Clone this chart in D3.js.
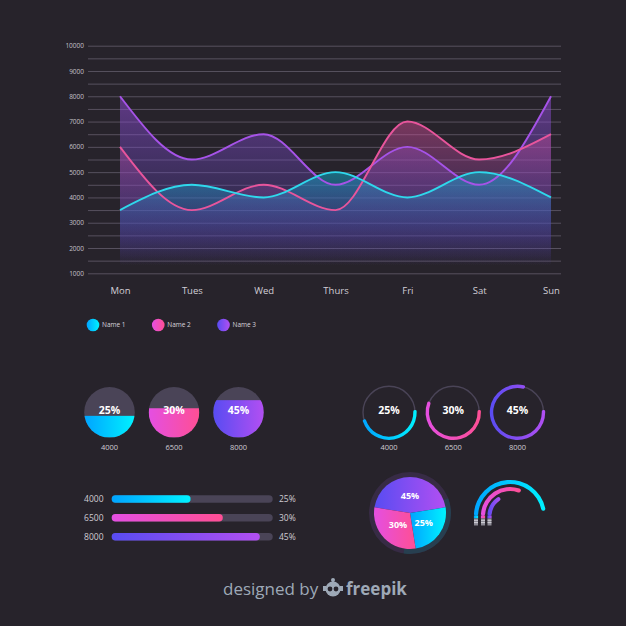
<!DOCTYPE html>
<html>
<head>
<meta charset="utf-8">
<script src="https://cdn.jsdelivr.net/npm/d3@7"></script>
<style>
  html, body { margin: 0; padding: 0; background: #27232b; }
  svg { display: block; font-family: 'Open Sans', sans-serif; }
</style>
</head>
<body>
<svg id="chart"></svg>
<script>
// values
const days = ['Mon', 'Tues', 'Wed', 'Thurs', 'Fri', 'Sat', 'Sun'];
const name1 = [3500, 4500, 4000, 5000, 4000, 5000, 4000];
const name2 = [6000, 3500, 4500, 3500, 7000, 5500, 6500];
const name3 = [8000, 5500, 6500, 4500, 6000, 4500, 8000];
const seriesNames = ['Name 1', 'Name 2', 'Name 3'];
const yTicks = [1000, 2000, 3000, 4000, 5000, 6000, 7000, 8000, 9000, 10000];
const gridValues = [1000, 1500, 2000, 2500, 3000, 3500, 4000, 4500, 5000, 5500,
  6000, 6500, 7000, 7500, 8000, 8500, 9000, 9500, 10000];

const shareLabels = ['25%', '30%', '45%'];
const totals = ['4000', '6500', '8000'];
const fillLevels = [0.43, 0.58, 0.74];   // filled circles
const ringLevels = [0.47, 0.58, 0.81];   // ring progress
const barLevels = [0.49, 0.69, 0.92];    // horizontal bars
const pieShares = [25, 30, 45];
const gaugeLevels = [0.95, 0.63, 0.34];  // outer cyan, pink, inner purple

let width = 626;
let height = 626;

let svg = d3.select('#chart').attr('width', width).attr('height', height);
svg.append('rect').attr('width', width).attr('height', height).attr('fill', '#27232b');

let defs = svg.append('defs');

// colour sets per series: cyan, pink, purple
let lineColors = ['#2fd8ec', '#e8559c', '#a653e8'];
// area gradients: [top colour, top opacity, bottom colour, bottom opacity]
let areaStops = [
  ['#0fa8c4', 0.55, '#4a44b0', 0.0],
  ['#e0509a', 0.45, '#7a46c0', 0.0],
  ['#9a4fe0', 0.5, '#5a48c0', 0.0]
];
let gradStops = [
  ['#00a4ff', '#00f2ff'],
  ['#e44fe2', '#ff4f94'],
  ['#584cf2', '#b24ff2']
];

gradStops.forEach((s, i) => {
  let g = defs.append('linearGradient').attr('id', 'grad' + i)
    .attr('x1', 0).attr('x2', 1).attr('y1', 0).attr('y2', 0);
  g.append('stop').attr('offset', '0%').attr('stop-color', s[0]);
  g.append('stop').attr('offset', '100%').attr('stop-color', s[1]);
});

areaStops.forEach((s, i) => {
  let g = defs.append('linearGradient').attr('id', 'area' + i)
    .attr('x1', 0).attr('x2', 0).attr('y1', 0).attr('y2', 1);
  g.append('stop').attr('offset', '0%').attr('stop-color', s[0]).attr('stop-opacity', s[1]);
  g.append('stop').attr('offset', '70%').attr('stop-color', s[2]).attr('stop-opacity', s[1] * 0.45);
  g.append('stop').attr('offset', '100%').attr('stop-color', s[2]).attr('stop-opacity', s[3]);
});

// ---------- line / area chart ----------
let xScale = d3.scalePoint().domain(days).range([120, 551]);
let yScale = d3.scaleLinear().domain([1000, 10000]).range([273.3, 45.7]);

let gridAxis = d3.axisLeft(yScale).tickValues(gridValues).tickSize(-(561 - 88)).tickFormat('');
let grid = svg.append('g').attr('transform', 'translate(88,0)').call(gridAxis);
grid.select('.domain').remove();
grid.selectAll('line').attr('stroke', '#57515f').attr('stroke-width', 1);

let yAxis = d3.axisLeft(yScale).tickValues(yTicks).tickSize(0).tickPadding(4).tickFormat(d3.format('d'));
let yg = svg.append('g').attr('transform', 'translate(88,0)').call(yAxis);
yg.select('.domain').remove();
yg.selectAll('text').attr('fill', '#c4c0c9').style('font-size', '6.5px').style('font-family', 'Open Sans');

let xAxis = d3.axisBottom(xScale).tickSize(0).tickPadding(0);
let xg = svg.append('g').attr('transform', 'translate(0,287)').call(xAxis);
xg.select('.domain').remove();
xg.selectAll('text').attr('fill', '#d2ced6').style('font-size', '9.5px').style('font-family', 'Open Sans');

let series = [name3, name2, name1];
let seriesIdx = [2, 1, 0];

let area = d3.area()
  .x((d, i) => xScale(days[i]))
  .y0(yScale(1300))
  .y1((d) => yScale(d))
  .curve(d3.curveMonotoneX);

let line = d3.line()
  .x((d, i) => xScale(days[i]))
  .y((d) => yScale(d))
  .curve(d3.curveMonotoneX);

svg.selectAll('path.area')
  .data(series)
  .enter()
  .append('path')
  .attr('class', 'area')
  .attr('d', area)
  .attr('fill', (d, i) => `url(#area${seriesIdx[i]})`);

svg.selectAll('path.line')
  .data(series)
  .enter()
  .append('path')
  .attr('class', 'line')
  .attr('d', line)
  .attr('fill', 'none')
  .attr('stroke', (d, i) => lineColors[seriesIdx[i]])
  .attr('stroke-width', 1.9);

// legend
let legendX = d3.scalePoint().domain(seriesNames).range([93, 223.5]);
let legend = svg.selectAll('g.legend')
  .data(seriesNames)
  .enter()
  .append('g')
  .attr('class', 'legend')
  .attr('transform', (d) => `translate(${legendX(d)},325)`);
legend.append('circle').attr('r', 6.3).attr('fill', (d, i) => `url(#grad${i})`);
legend.append('text')
  .attr('x', 9).attr('dy', '0.35em')
  .attr('fill', '#d8d4dc').style('font-size', '6.5px')
  .text((d) => d);

// ---------- filled circles ----------
let circleX = d3.scalePoint().domain([0, 1, 2]).range([109.5, 238.5]);
let cy = 412.3;
let cr = 25.3;
let levelY = d3.scaleLinear().domain([0, 1]).range([cy + cr, cy - cr]);

[0, 1, 2].forEach((i) => {
  let g = svg.append('g').attr('transform', `translate(${circleX(i)},0)`);
  defs.append('clipPath').attr('id', 'clip' + i)
    .append('circle').attr('cx', 0).attr('cy', cy).attr('r', cr);
  g.append('circle').attr('cy', cy).attr('r', cr).attr('fill', '#4a4457');
  g.append('rect')
    .attr('clip-path', `url(#clip${i})`)
    .attr('x', -cr).attr('width', cr * 2)
    .attr('y', levelY(fillLevels[i]))
    .attr('height', levelY(0) - levelY(fillLevels[i]))
    .attr('fill', `url(#grad${i})`);
  g.append('text').attr('y', cy - 2).attr('dy', '0.35em').attr('text-anchor', 'middle')
    .attr('fill', '#fff').style('font-size', '10.5px').style('font-weight', 700)
    .text(shareLabels[i]);
  g.append('text').attr('y', 447.5).attr('dy', '0.35em').attr('text-anchor', 'middle')
    .attr('fill', '#cfcbd3').style('font-size', '7.5px')
    .text(totals[i]);
});

// ---------- ring circles ----------
let ringX = d3.scalePoint().domain([0, 1, 2]).range([389, 517.5]);
let ringStart = 85 * Math.PI / 180;
let ringArc = d3.arc().innerRadius(24.3).outerRadius(27.7).cornerRadius(1.5);

[0, 1, 2].forEach((i) => {
  let g = svg.append('g').attr('transform', `translate(${ringX(i)},${cy})`);
  g.append('circle').attr('r', 26).attr('fill', 'none')
    .attr('stroke', '#4a4457').attr('stroke-width', 1.4);
  g.append('path')
    .attr('d', ringArc({ startAngle: ringStart, endAngle: ringStart + ringLevels[i] * 2 * Math.PI }))
    .attr('fill', `url(#grad${i})`);
  g.append('text').attr('y', -2).attr('dy', '0.35em').attr('text-anchor', 'middle')
    .attr('fill', '#fff').style('font-size', '10.5px').style('font-weight', 700)
    .text(shareLabels[i]);
  g.append('text').attr('y', 447.5 - cy).attr('dy', '0.35em').attr('text-anchor', 'middle')
    .attr('fill', '#cfcbd3').style('font-size', '7.5px')
    .text(totals[i]);
});

// ---------- horizontal bars ----------
let barY = d3.scalePoint().domain([0, 1, 2]).range([499, 536.7]);
let barScale = d3.scaleLinear().domain([0, 1]).range([111.7, 272.7]);
let barH = 7.5;

[0, 1, 2].forEach((i) => {
  let y = barY(i);
  svg.append('rect')
    .attr('x', barScale(0)).attr('y', y - barH / 2)
    .attr('width', barScale(1) - barScale(0)).attr('height', barH)
    .attr('rx', barH / 2).attr('fill', '#4a4457');
  svg.append('rect')
    .attr('x', barScale(0)).attr('y', y - barH / 2)
    .attr('width', barScale(barLevels[i]) - barScale(0)).attr('height', barH)
    .attr('rx', barH / 2).attr('fill', `url(#grad${i})`);
  svg.append('text').attr('x', 103.5).attr('y', y).attr('dy', '0.35em')
    .attr('text-anchor', 'end').attr('fill', '#d0ccd4').style('font-size', '8.5px')
    .text(totals[i]);
  svg.append('text').attr('x', 279).attr('y', y).attr('dy', '0.35em')
    .attr('fill', '#d0ccd4').style('font-size', '8.5px')
    .text(shareLabels[i]);
});

// ---------- pie ----------
let pieG = svg.append('g').attr('transform', 'translate(410,513)');
pieG.append('path')
  .attr('d', d3.arc().innerRadius(34).outerRadius(41)({ startAngle: 0, endAngle: 2 * Math.PI }))
  .attr('fill', '#372b45');
pieG.append('path')
  .attr('d', d3.arc().innerRadius(34).outerRadius(41)({ startAngle: 1.2, endAngle: 3.3 }))
  .attr('fill', '#1c4d58').attr('opacity', 0.6);

// order clockwise from the top: purple, cyan, pink
let pieData = [2, 0, 1].map((k) => ({ k: k, v: pieShares[k] }));
let pie = d3.pie().sort(null).value((d) => d.v)
  .startAngle(-0.45 * Math.PI).endAngle(1.55 * Math.PI);
let pieArc = d3.arc().innerRadius(0).outerRadius(36);
let labelArc = d3.arc().innerRadius(17).outerRadius(17);

pieG.selectAll('path.slice')
  .data(pie(pieData))
  .enter()
  .append('path')
  .attr('class', 'slice')
  .attr('d', pieArc)
  .attr('fill', (d) => `url(#grad${d.data.k})`);

pieG.selectAll('text.slice')
  .data(pie(pieData))
  .enter()
  .append('text')
  .attr('class', 'slice')
  .attr('transform', (d) => `translate(${labelArc.centroid(d)})`)
  .attr('dy', '0.35em').attr('text-anchor', 'middle')
  .attr('fill', '#fff').style('font-size', '9px').style('font-weight', 700)
  .text((d) => d.data.v + '%');

// ---------- gauge ----------
let gaugeG = svg.append('g').attr('transform', 'translate(510,516)');
let gaugeR = [34, 27, 20.5];
let gaugeColor = [0, 1, 2];

gaugeR.forEach((r, i) => {
  let a0 = -Math.PI / 2;
  let a1 = a0 + gaugeLevels[i] * Math.PI;
  let arcPath = d3.arc().innerRadius(r - 2.1).outerRadius(r + 2.1).cornerRadius(2.1);
  gaugeG.append('rect')
    .attr('x', -r - 2.1).attr('y', -0.5).attr('width', 4.2).attr('height', 3)
    .attr('fill', `url(#grad${gaugeColor[i]})`);
  gaugeG.append('path')
    .attr('d', arcPath({ startAngle: a0, endAngle: a1 }))
    .attr('fill', `url(#grad${gaugeColor[i]})`);
  // little plugs at the left ends
  gaugeG.append('rect')
    .attr('x', -r - 2).attr('y', 2.5).attr('width', 4).attr('height', 7)
    .attr('fill', '#8c8a94');
  [4.3, 6.6].forEach((yy) => {
    gaugeG.append('line')
      .attr('x1', -r - 2).attr('x2', -r + 2).attr('y1', yy).attr('y2', yy)
      .attr('stroke', '#e4e2e8').attr('stroke-width', 0.8);
  });
});

// ---------- footer ----------
svg.append('text').attr('x', 223).attr('y', 595)
  .attr('fill', '#9ea9b7').style('font-size', '17px')
  .text('designed by');
let logo = svg.append('g').attr('transform', 'translate(333,589)');
logo.append('circle').attr('r', 7.5).attr('fill', '#9ea9b7');
logo.append('circle').attr('cy', -9).attr('r', 2).attr('fill', '#9ea9b7');
logo.append('line').attr('y1', -9).attr('y2', -6).attr('stroke', '#9ea9b7').attr('stroke-width', 1.5);
logo.append('circle').attr('cx', -3).attr('cy', 0).attr('r', 2.4).attr('fill', '#27232b');
logo.append('circle').attr('cx', 3).attr('cy', 0).attr('r', 2.4).attr('fill', '#27232b');
logo.append('rect').attr('x', -10).attr('y', -3).attr('width', 3).attr('height', 5).attr('fill', '#9ea9b7');
logo.append('rect').attr('x', 7).attr('y', -3).attr('width', 3).attr('height', 5).attr('fill', '#9ea9b7');
svg.append('text').attr('x', 346).attr('y', 595)
  .attr('fill', '#9ea9b7').style('font-size', '17px').style('font-weight', 700)
  .text('freepik');
</script>
</body>
</html>
